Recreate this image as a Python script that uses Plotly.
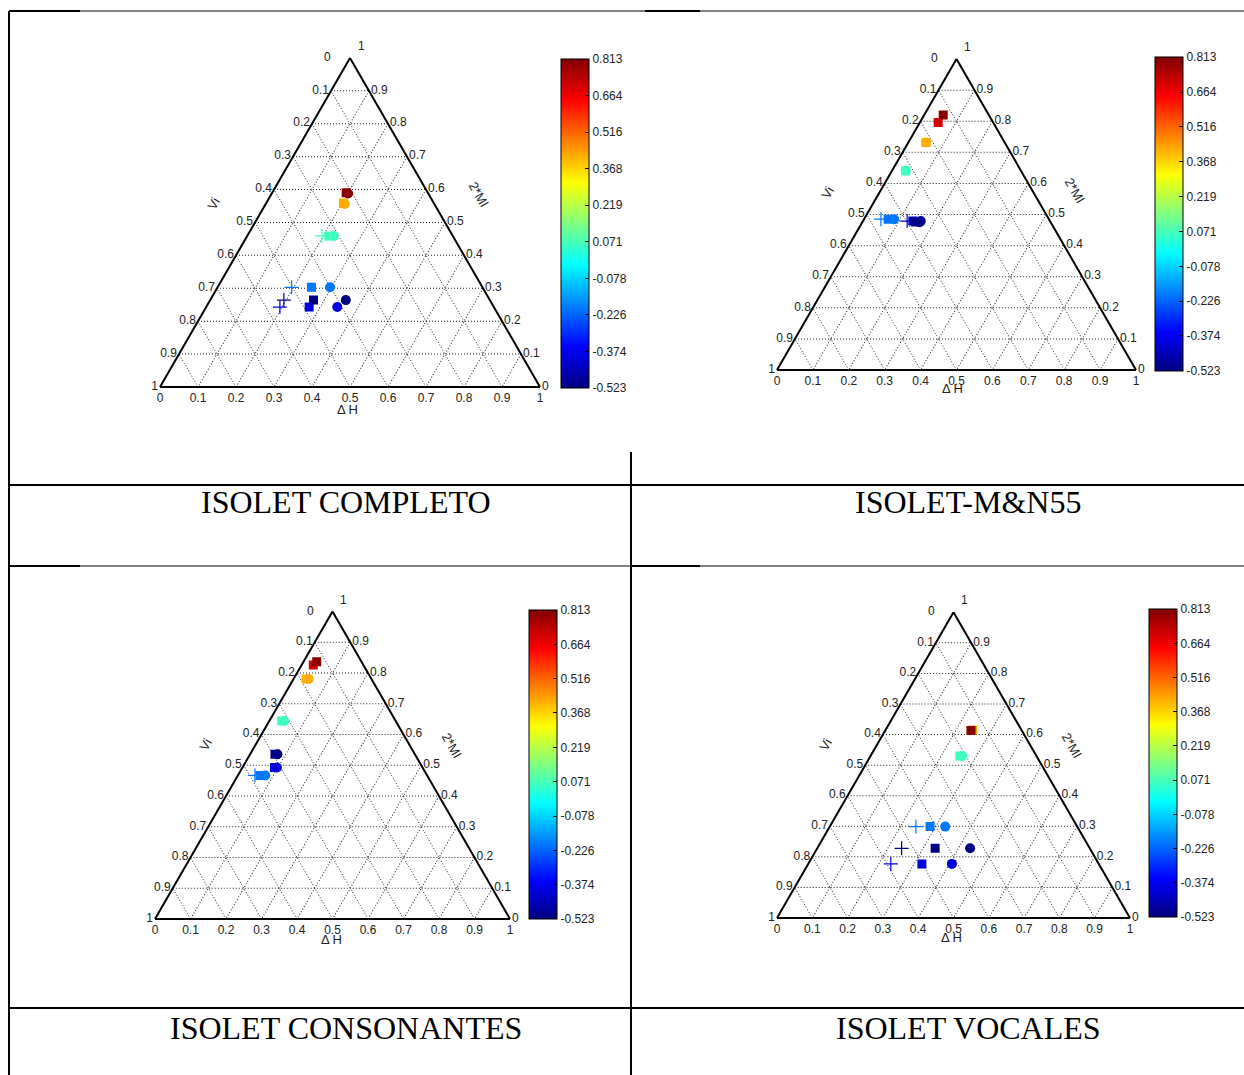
import plotly.graph_objects as go

# MATLAB-style jet colour map
JET = [[0.0, "rgb(0,0,128)"], [0.125, "rgb(0,0,255)"], [0.375, "rgb(0,255,255)"],
       [0.625, "rgb(255,255,0)"], [0.875, "rgb(255,0,0)"], [1.0, "rgb(128,0,0)"]]
CMIN, CMAX = -0.523, 0.813
CBAR_TICKS = [0.813, 0.664, 0.516, 0.368, 0.219, 0.071, -0.078, -0.226, -0.374, -0.523]

captions = ["ISOLET COMPLETO", "ISOLET-M&N55", "ISOLET CONSONANTES", "ISOLET VOCALES"]

# Per panel: (2*MI, Vi, ΔH) compositions and colour value for each marker type
# ---- ISOLET COMPLETO
p1_plus_mi = [0.459, 0.303, 0.264, 0.243]
p1_plus_vi = [0.344, 0.502, 0.542, 0.563]
p1_plus_dh = [0.197, 0.195, 0.194, 0.194]
p1_plus_v = [0.060, -0.200, -0.515, -0.400]
p1_sq_mi = [0.303, 0.243, 0.264, 0.459, 0.559, 0.590]
p1_sq_vi = [0.450, 0.486, 0.464, 0.326, 0.238, 0.215]
p1_sq_dh = [0.247, 0.271, 0.272, 0.215, 0.203, 0.195]
p1_sq_v = [-0.200, -0.400, -0.515, 0.060, 0.420, 0.800]
p1_ci_mi = [0.303, 0.243, 0.264, 0.459, 0.556, 0.588]
p1_ci_vi = [0.401, 0.412, 0.379, 0.313, 0.236, 0.211]
p1_ci_dh = [0.296, 0.345, 0.357, 0.228, 0.208, 0.201]
p1_ci_v = [-0.200, -0.400, -0.515, 0.060, 0.420, 0.800]

# ---- ISOLET-M&N55
p2_plus_mi = [0.485, 0.479]
p2_plus_vi = [0.468, 0.398]
p2_plus_dh = [0.047, 0.123]
p2_plus_v = [-0.200, -0.480]
p2_sq_mi = [0.485, 0.479, 0.476, 0.641, 0.732, 0.796, 0.820]
p2_sq_vi = [0.448, 0.382, 0.376, 0.321, 0.219, 0.153, 0.127]
p2_sq_dh = [0.067, 0.139, 0.148, 0.038, 0.049, 0.051, 0.053]
p2_sq_v = [-0.200, -0.440, -0.515, 0.060, 0.420, 0.700, 0.800]
p2_ci_mi = [0.485, 0.479, 0.475, 0.641, 0.732]
p2_ci_vi = [0.431, 0.360, 0.365, 0.321, 0.219]
p2_ci_dh = [0.084, 0.161, 0.160, 0.038, 0.049]
p2_ci_v = [-0.200, -0.440, -0.515, 0.060, 0.420]

# ---- ISOLET CONSONANTES
p3_plus_mi = [0.467]
p3_plus_vi = [0.485]
p3_plus_dh = [0.048]
p3_plus_v = [-0.200]
p3_sq_mi = [0.467, 0.493, 0.536, 0.644, 0.781, 0.826, 0.837]
p3_sq_vi = [0.471, 0.417, 0.394, 0.321, 0.184, 0.141, 0.126]
p3_sq_dh = [0.062, 0.090, 0.070, 0.035, 0.035, 0.033, 0.037]
p3_sq_v = [-0.200, -0.400, -0.515, 0.060, 0.420, 0.700, 0.800]
p3_ci_mi = [0.467, 0.493, 0.536, 0.644, 0.781]
p3_ci_vi = [0.456, 0.410, 0.387, 0.314, 0.177]
p3_ci_dh = [0.077, 0.097, 0.077, 0.042, 0.042]
p3_ci_v = [-0.200, -0.400, -0.515, 0.060, 0.420]

# ---- ISOLET VOCALES
p4_plus_mi = [0.299, 0.228, 0.177]
p4_plus_vi = [0.457, 0.533, 0.589]
p4_plus_dh = [0.244, 0.239, 0.234]
p4_plus_v = [-0.200, -0.515, -0.400]
p4_sq_mi = [0.299, 0.228, 0.177, 0.530, 0.615, 0.613]
p4_sq_vi = [0.417, 0.438, 0.501, 0.217, 0.138, 0.144]
p4_sq_dh = [0.284, 0.334, 0.322, 0.253, 0.247, 0.243]
p4_sq_v = [-0.200, -0.515, -0.400, 0.060, 0.420, 0.800]
p4_ci_mi = [0.299, 0.228, 0.177, 0.530]
p4_ci_vi = [0.374, 0.339, 0.416, 0.210]
p4_ci_dh = [0.327, 0.433, 0.407, 0.260]
p4_ci_v = [-0.200, -0.515, -0.400, 0.060]

panels = [
    dict(plus=(p1_plus_mi, p1_plus_vi, p1_plus_dh, p1_plus_v),
         sq=(p1_sq_mi, p1_sq_vi, p1_sq_dh, p1_sq_v),
         ci=(p1_ci_mi, p1_ci_vi, p1_ci_dh, p1_ci_v)),
    dict(plus=(p2_plus_mi, p2_plus_vi, p2_plus_dh, p2_plus_v),
         sq=(p2_sq_mi, p2_sq_vi, p2_sq_dh, p2_sq_v),
         ci=(p2_ci_mi, p2_ci_vi, p2_ci_dh, p2_ci_v)),
    dict(plus=(p3_plus_mi, p3_plus_vi, p3_plus_dh, p3_plus_v),
         sq=(p3_sq_mi, p3_sq_vi, p3_sq_dh, p3_sq_v),
         ci=(p3_ci_mi, p3_ci_vi, p3_ci_dh, p3_ci_v)),
    dict(plus=(p4_plus_mi, p4_plus_vi, p4_plus_dh, p4_plus_v),
         sq=(p4_sq_mi, p4_sq_vi, p4_sq_dh, p4_sq_v),
         ci=(p4_ci_mi, p4_ci_vi, p4_ci_dh, p4_ci_v)),
]

W, H = 1244, 1075

def px(x):
    return x / W

def py(y):
    return 1 - y / H

# Layout boxes (pixels): triangle left, right, baseline; colorbar left, top, bottom
tri = [(160, 540, 387), (777, 1136, 370), (155, 510, 919), (777, 1130, 918)]
cbar = [(561, 59, 388), (1155, 57, 371), (529, 610, 919), (1149, 609, 917)]
labels_pos = [dict(dh=(347, 409), vi=(213, 204), mi=(479, 194)),
              dict(dh=(953, 388), vi=(827, 193), mi=(1075, 190)),
              dict(dh=(331, 939), vi=(205, 745), mi=(452, 745)),
              dict(dh=(951, 937), vi=(825, 745), mi=(1072, 745))]
cap_pos = [(346, 502), (968, 502), (346, 1028), (968, 1028)]

ticks = [round(i / 10, 1) for i in range(11)]
rev = [("%g" % round(1 - t, 1)) for t in ticks]
# the top vertex carries two labels; they are drawn separately so they don't collide
rev_a = rev[:-1] + [""]
rev_c = [""] + rev[1:]

fig = go.Figure()
tick_font = dict(family="Liberation Sans, Arial", size=12, color="#222")

def note(x, y, text, font, angle=0):
    fig.add_annotation(x=px(x), y=py(y), text=text, showarrow=False, xref="paper",
                       yref="paper", xanchor="center", yanchor="middle",
                       font=font, textangle=angle)

for k, pan in enumerate(panels):
    tid = "ternary" if k == 0 else "ternary%d" % (k + 1)
    for key, sym, size in [("plus", "cross-thin", 10), ("sq", "square", 9), ("ci", "circle", 10)]:
        mi, vi, dh, v = pan[key]
        marker = dict(symbol=sym, size=size, color=v, colorscale=JET, cmin=CMIN, cmax=CMAX)
        if sym == "cross-thin":
            marker["line"] = dict(width=1.2, color=v, colorscale=JET, cmin=CMIN, cmax=CMAX)
        else:
            marker["line"] = dict(width=0)
        if key == "ci":
            cx, ct, cb = cbar[k]
            marker["showscale"] = True
            marker["colorbar"] = dict(
                x=px(cx), xanchor="left", y=py(cb), yanchor="bottom",
                len=(cb - ct) / H, lenmode="fraction", thickness=28,
                outlinewidth=1, outlinecolor="black",
                tickvals=CBAR_TICKS, ticktext=["%.3f" % t for t in CBAR_TICKS],
                ticks="inside", ticklen=4, tickcolor="black",
                tickfont=tick_font, xpad=0, ypad=0)
        fig.add_trace(go.Scatterternary(a=mi, b=vi, c=dh, mode="markers",
                                        marker=marker, subplot=tid, showlegend=False,
                                        hoverinfo="skip"))

    x0, x1, yb = tri[k]
    h = (x1 - x0) * 3 ** 0.5 / 2
    axis_common = dict(tickvals=ticks, ticktext=rev, ticks="", showgrid=True,
                       gridcolor="#222", griddash="1px,2px", gridwidth=1,
                       linecolor="black", linewidth=2, showline=True,
                       tickfont=tick_font, title=dict(text=""))
    fig.update_layout(**{tid: dict(
        sum=1, bgcolor="rgba(0,0,0,0)",
        domain=dict(x=[px(x0), px(x1)], y=[py(yb), py(yb - h)]),
        aaxis={**axis_common, "ticktext": rev_a},
        baxis=axis_common,
        caxis={**axis_common, "ticktext": rev_c})})

    # labels at the top vertex
    tx, ty = (x0 + x1) / 2, yb - h
    note(tx - 22, ty - 1, "0", tick_font)
    note(tx + 11, ty - 12, "1", tick_font)

    lp = labels_pos[k]
    lab_font = dict(family="Liberation Sans, Arial", size=13, color="#222")
    note(*lp["dh"], "Δ H", lab_font)
    note(*lp["vi"], "Vi", lab_font, -60)
    note(*lp["mi"], "2*MI", lab_font, 60)
    note(*cap_pos[k], captions[k],
         dict(family="Liberation Serif, Times New Roman", size=32, color="black"))

# Table rules: (x0, y0, x1, y1, width)
rules = [
    (9, 11, 9, 1075, 2),
    (9, 11, 1244, 11, 1), (9, 11, 80, 11, 2), (645, 11, 700, 11, 2),
    (9, 485, 1244, 485, 2),
    (9, 566, 1244, 566, 1), (9, 566, 80, 566, 2), (631, 566, 700, 566, 2),
    (9, 1008, 1244, 1008, 2),
    (631, 452, 631, 1075, 2),
]
for xa, ya, xb, yb2, lw in rules:
    fig.add_shape(type="line", xref="paper", yref="paper",
                  x0=px(xa), y0=py(ya), x1=px(xb), y1=py(yb2),
                  line=dict(color="black", width=lw))

fig.update_layout(width=W, height=H, margin=dict(l=0, r=0, t=0, b=0),
                  paper_bgcolor="white", plot_bgcolor="white")
fig.write_html("out.html")
